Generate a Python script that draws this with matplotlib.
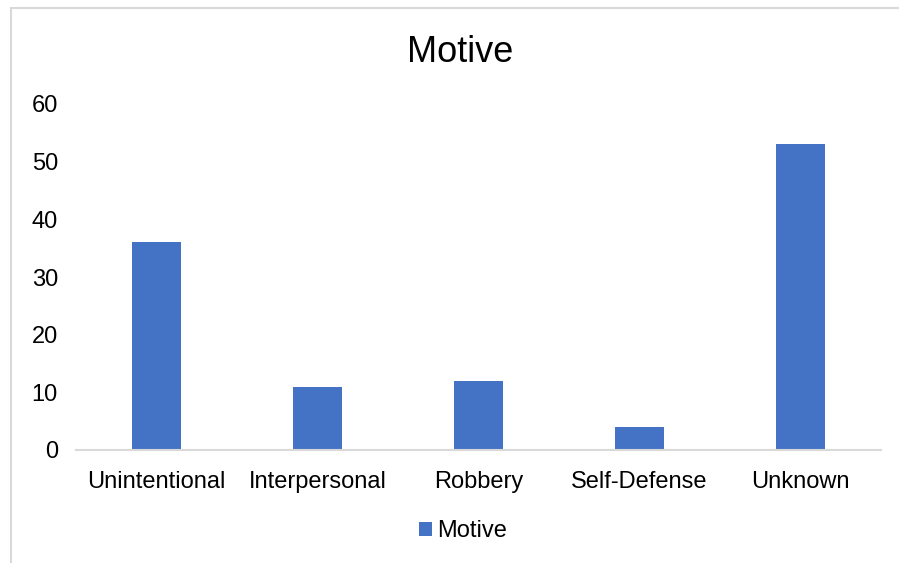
import matplotlib.pyplot as plt
from matplotlib.patches import Rectangle

plt.rcParams['font.family'] = ['Liberation Sans', 'DejaVu Sans']

# Counts by motive
categories = ['Unintentional', 'Interpersonal', 'Robbery', 'Self-Defense', 'Unknown']
counts = [36, 11, 12, 4, 53]
series_name = 'Motive'

bar_color = '#4472C4'
frame_color = '#d9d9d9'

fig = plt.figure(figsize=(8.99, 5.63), dpi=100)

# chart frame (only left and top edges fall inside the image)
fig.patches.append(Rectangle((11 / 899, -0.1), 1.2, 1 - 8 / 563 + 0.1,
                             transform=fig.transFigure, fill=False,
                             edgecolor=frame_color, linewidth=1.5))

ax = fig.add_axes([76 / 899, 1 - 450 / 563, (881 - 76) / 899, (450 - 104) / 563])
x = range(len(categories))
bars = ax.bar(x, counts, width=0.31, color=bar_color, label=series_name)

ax.set_xlim(-0.5, len(categories) - 0.5)
ax.set_ylim(0, 60)
ax.set_yticks(range(0, 61, 10))
ax.set_xticks(list(x))
ax.set_xticklabels(categories)
ax.tick_params(axis='both', length=0, labelsize=17, colors='black')
ax.tick_params(axis='x', pad=15)
ax.tick_params(axis='y', pad=13)

for side in ['top', 'right', 'left']:
    ax.spines[side].set_visible(False)
ax.spines['bottom'].set_color(frame_color)
ax.spines['bottom'].set_linewidth(1.5)

fig.text(460 / 899, 1 - 52 / 563, 'Motive', ha='center', va='center', fontsize=26)

fig.legend(handles=[bars], labels=[series_name], loc='center',
           bbox_to_anchor=(463 / 899, 1 - 531 / 563), frameon=False,
           fontsize=17, handlelength=0.55, handleheight=0.55, handletextpad=0.25)

fig.savefig('out.png', dpi=100, facecolor='white')
